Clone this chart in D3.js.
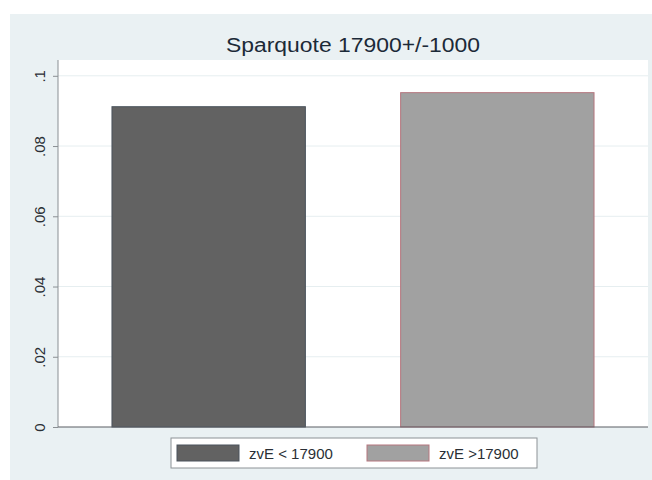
<!DOCTYPE html>
<html>
<head>
<meta charset="utf-8">
<script src="https://cdn.jsdelivr.net/npm/d3@7"></script>
<style>
  body { margin: 0; background: #fff; }
  text { font-family: "Liberation Sans", Arial, sans-serif; }
</style>
</head>
<body>
<div id="chart"></div>
<script>
// Mean savings rate by income group
const CATEGORIES = ['zvE < 17900', 'zvE >17900'];
const VALUES = [0.0912, 0.0952];
const Y_TICKS = [0, 0.02, 0.04, 0.06, 0.08, 0.1];
const Y_TICK_LABELS = ['0', '.02', '.04', '.06', '.08', '.1'];
const TITLE = 'Sparquote 17900+/-1000';

const COLORS = [
  {fill: '#626262', stroke: '#4a535c'},
  {fill: '#a1a1a1', stroke: '#b5767e'}
];

let width = 652, height = 480;
let plot = {left: 58, right: 648, top: 60, bottom: 427};

let svg = d3.select('#chart')
  .append('svg')
  .attr('width', width)
  .attr('height', height);

// outer graph region
svg.append('rect')
  .attr('x', 10).attr('y', 14)
  .attr('width', width - 10).attr('height', height - 14)
  .attr('fill', '#eaf1f3');

// plot region
svg.append('rect')
  .attr('x', plot.left).attr('y', plot.top)
  .attr('width', plot.right - plot.left).attr('height', plot.bottom - plot.top)
  .attr('fill', '#ffffff');

var x = d3.scaleBand()
  .domain(CATEGORIES)
  .range([plot.left, plot.right])
  .paddingInner(0.33)
  .paddingOuter(0.187);

var y = d3.scaleLinear()
  .domain([0, 0.1045])
  .range([plot.bottom, plot.top]);

// gridlines
svg.append('g')
  .selectAll('line')
  .data(Y_TICKS.slice(1))
  .enter()
  .append('line')
  .attr('x1', plot.left).attr('x2', plot.right)
  .attr('y1', d => y(d)).attr('y2', d => y(d))
  .attr('stroke', '#e6eef0')
  .attr('stroke-width', 1);

// y axis
let yAxis = svg.append('g')
  .attr('transform', 'translate(' + plot.left + ',0)')
  .call(d3.axisLeft(y).tickValues(Y_TICKS).tickSize(5).tickFormat((d, i) => Y_TICK_LABELS[i]));
yAxis.select('.domain')
  .attr('d', 'M0,' + plot.top + 'V' + plot.bottom)
  .attr('stroke', '#8a8f93');
yAxis.selectAll('.tick line').attr('stroke', '#8a8f93');
yAxis.selectAll('.tick text')
  .attr('x', null).attr('dy', null)
  .attr('transform', 'translate(-13,0) rotate(-90)')
  .attr('text-anchor', 'middle')
  .attr('fill', '#2a2f35')
  .style('font-size', '15px');

// bars
svg.append('g')
  .selectAll('rect')
  .data(VALUES)
  .enter()
  .append('rect')
  .attr('x', (d, i) => x(CATEGORIES[i]))
  .attr('y', d => y(d))
  .attr('width', x.bandwidth())
  .attr('height', d => y(0) - y(d))
  .attr('fill', (d, i) => COLORS[i].fill)
  .attr('stroke', (d, i) => COLORS[i].stroke)
  .attr('stroke-width', 1);

// x axis line
svg.append('line')
  .attr('x1', plot.left).attr('x2', plot.right)
  .attr('y1', plot.bottom).attr('y2', plot.bottom)
  .attr('stroke', '#5a5f64')
  .attr('stroke-width', 1.2);

// title
svg.append('text')
  .attr('x', (plot.left + plot.right) / 2)
  .attr('y', 52)
  .attr('text-anchor', 'middle')
  .attr('fill', '#1c2a38')
  .attr('textLength', 254)
  .attr('lengthAdjust', 'spacingAndGlyphs')
  .style('font-size', '20px')
  .text(TITLE);

// legend
let legend = svg.append('g');
legend.append('rect')
  .attr('x', 171).attr('y', 438)
  .attr('width', 366).attr('height', 30)
  .attr('fill', '#ffffff')
  .attr('stroke', '#8c9296');

let legendX = [177, 367];
legend.selectAll('.swatch')
  .data(CATEGORIES)
  .enter()
  .append('rect')
  .attr('class', 'swatch')
  .attr('x', (d, i) => legendX[i])
  .attr('y', 445)
  .attr('width', 62).attr('height', 16)
  .attr('fill', (d, i) => COLORS[i].fill)
  .attr('stroke', (d, i) => COLORS[i].stroke);

legend.selectAll('.label')
  .data(CATEGORIES)
  .enter()
  .append('text')
  .attr('class', 'label')
  .attr('x', (d, i) => legendX[i] + 72)
  .attr('y', 459)
  .attr('fill', '#2a2f35')
  .style('font-size', '15px')
  .text(d => d);
</script>
</body>
</html>
